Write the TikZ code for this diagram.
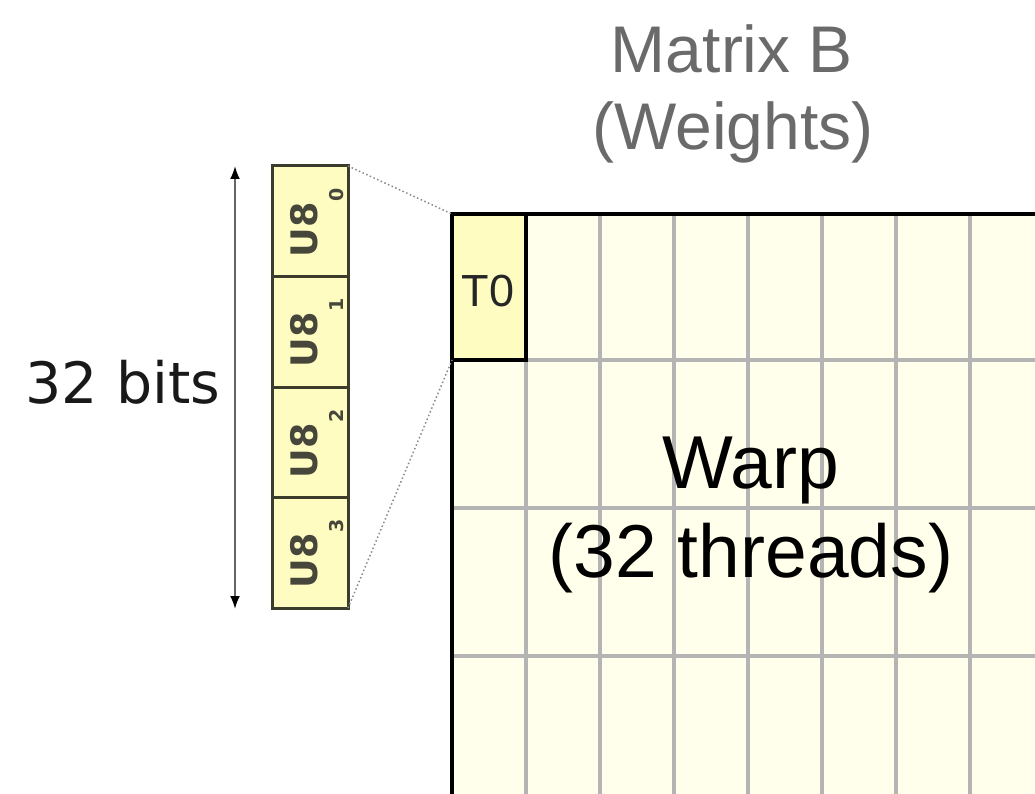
\documentclass[tikz,border=0pt]{standalone}
\usepackage{fontspec}
\setmainfont{Liberation Sans}
\newfontfamily\dejavu{DejaVu Sans}
\usetikzlibrary{arrows.meta}
\definecolor{cream}{HTML}{FFFFEB}
\definecolor{cellyel}{HTML}{FFFCC2}
\definecolor{gridgray}{HTML}{B4B4B4}
\definecolor{titlegray}{HTML}{6A6A6A}
\definecolor{bardark}{HTML}{3C3C2C}
\definecolor{labgray}{HTML}{46463A}
\definecolor{dotgray}{HTML}{8A8A8A}
\tikzset{
  gridline/.style={draw=gridgray, line width=3.5pt},
  bytecell/.style={draw=bardark, line width=3pt, fill=cellyel, minimum width=76pt, minimum height=110.5pt, inner sep=0pt, outer sep=0pt},
  bytelab/.style={rotate=90, anchor=base, inner sep=0pt, text=labgray, font=\dejavu\bfseries\fontsize{36.5}{40}\selectfont},
  zoomline/.style={draw=dotgray, line width=1.5pt, dash pattern=on 1.5pt off 2.5pt},
  dimarrow/.style={draw=gray!80!black, line width=2pt, {Latex[length=13pt,width=10pt,color=black]}-{Latex[length=13pt,width=10pt,color=black]}}
}
\newcommand{\bsub}[1]{\kern1pt\raisebox{-26pt}{\fontsize{19}{19}\selectfont #1}}
\begin{document}
\begin{tikzpicture}[x=1pt,y=-1pt]
\useasboundingbox (0,0) rectangle (1035,794);
\clip (0,0) rectangle (1035,794);
% matrix
\fill[cream] (452,214) rectangle (1045,800);
\foreach \x in {526,600,674,748,822,896,970} \draw[gridline] (\x,214) -- (\x,800);
\foreach \y in {360,508,656} \draw[gridline] (452,\y) -- (1045,\y);
\draw[line width=4pt] (452,800) -- (452,214) -- (1045,214);
\node[draw=black, line width=4pt, fill=cellyel, minimum width=74pt, minimum height=146pt, inner sep=0pt, outer sep=0pt, anchor=north west] (t0) at (452,214) {};
\node[anchor=base, inner sep=0pt, text=black!85, font=\fontsize{45}{50}\selectfont] (t0lab) at (488,306) {T0};
% byte bar
\node[bytecell] (u0) at (310,221.25) {};
\node[bytecell] (u1) at (310,331.75) {};
\node[bytecell] (u2) at (310,442.25) {};
\node[bytecell] (u3) at (310,552.75) {};
\node[bytelab] (l0) at (317,222.5) {U8\bsub{0}};
\node[bytelab] (l1) at (317,333) {U8\bsub{1}};
\node[bytelab] (l2) at (317,443.5) {U8\bsub{2}};
\node[bytelab] (l3) at (317,554) {U8\bsub{3}};
% zoom lines
\draw[zoomline] (u0.north east) -- (t0.north west);
\draw[zoomline] (u3.south east) -- (t0.south west);
% dimension arrow
\coordinate (atop) at (235,166);
\coordinate (abot) at (235,609);
\draw[dimarrow] (atop) -- (abot);
\node[anchor=base, inner sep=0pt, text=black!90, font=\dejavu\fontsize{57}{62}\selectfont] (bits) at (123,403) {32 bits};
% titles
\node[anchor=base, inner sep=0pt, text=titlegray, font=\fontsize{66}{72}\selectfont] (title1) at (732,73) {Matrix B};
\node[anchor=base, inner sep=0pt, text=titlegray, font=\fontsize{66}{72}\selectfont] (title2) at (733,150) {(Weights)};
% warp label
\node[anchor=base, inner sep=0pt, text=black, font=\fontsize{75}{80}\selectfont] (warp1) at (751,488) {Warp};
\node[anchor=base, inner sep=0pt, text=black, font=\fontsize{75}{80}\selectfont] (warp2) at (751,577) {(32 threads)};
\end{tikzpicture}
\end{document}
